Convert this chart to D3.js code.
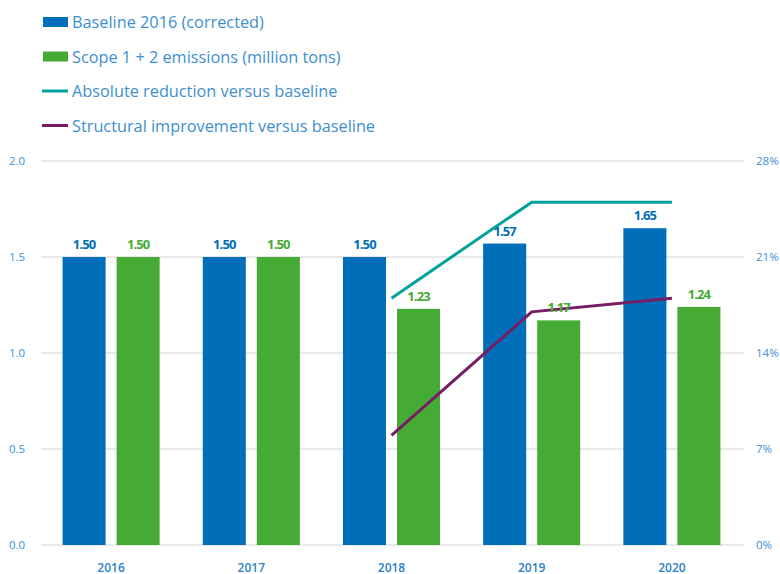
<!DOCTYPE html>
<html>
<head>
<meta charset="utf-8">
<script src="https://cdn.jsdelivr.net/npm/d3@7"></script>
<style>
body { margin: 0; background: #fff; }
svg { font-family: "Open Sans", sans-serif; }
</style>
</head>
<body>
<div id="chart"></div>
<script>
var years = ["2016", "2017", "2018", "2019", "2020"];
var baseline = [1.50, 1.50, 1.50, 1.57, 1.65];
var emissions = [1.50, 1.50, 1.23, 1.17, 1.24];
var absoluteReduction = [null, null, 18, 25, 25];
var structuralImprovement = [null, null, 8, 17, 18];
var leftTicks = [0, 0.5, 1.0, 1.5, 2.0];
var rightTicks = [0, 7, 14, 21, 28];

var blue = "#006eb9", green = "#46ab34", teal = "#00a19a", purple = "#761d64", textBlue = "#3d8fd0";

var width = 780, height = 574;
var margin = {top: 161, right: 38, bottom: 29, left: 41};

var svg = d3.select("#chart").append("svg")
    .attr("width", width)
    .attr("height", height);

var x = d3.scaleBand().domain(years).range([margin.left, width - margin.right]);
var y = d3.scaleLinear().domain([0, 2]).range([height - margin.bottom, margin.top]);
var y2 = d3.scaleLinear().domain([0, 28]).range([height - margin.bottom, margin.top]);

var barW = x.bandwidth() * 0.307, gap = 11;

// gridlines
svg.append("g").selectAll("line").data(leftTicks).enter().append("line")
    .attr("x1", margin.left).attr("x2", width - margin.right + 2)
    .attr("y1", function(d) { return y(d); }).attr("y2", function(d) { return y(d); })
    .style("stroke", "#e2e2e2").style("stroke-width", 1.5);

// left axis labels
svg.append("g").selectAll("text").data(leftTicks).enter().append("text")
    .attr("x", 9).attr("y", function(d) { return y(d) + 4; })
    .style("font-size", "11.5px").style("fill", textBlue)
    .text(function(d) { return d3.format(".1f")(d); });

// right axis labels
svg.append("g").selectAll("text").data(rightTicks).enter().append("text")
    .attr("x", 756).attr("y", function(d) { return y2(d) + 4; })
    .style("font-size", "11.5px").style("fill", textBlue)
    .text(function(d) { return d + "%"; });

// x labels
svg.append("g").selectAll("text").data(years).enter().append("text")
    .attr("x", function(d) { return x(d) + x.bandwidth() / 2; })
    .attr("y", 571.5)
    .attr("text-anchor", "middle")
    .style("font-size", "12px").style("font-weight", "600").style("fill", "#2c80c8")
    .text(function(d) { return d; });

// bars
var cx = function(d) { return x(d) + x.bandwidth() / 2; };
svg.append("g").selectAll("rect").data(years).enter().append("rect")
    .attr("x", function(d) { return cx(d) - gap / 2 - barW; })
    .attr("y", function(d, i) { return y(baseline[i]); })
    .attr("width", barW)
    .attr("height", function(d, i) { return y(0) - y(baseline[i]); })
    .style("fill", blue);

svg.append("g").selectAll("rect").data(years).enter().append("rect")
    .attr("x", function(d) { return cx(d) + gap / 2; })
    .attr("y", function(d, i) { return y(emissions[i]); })
    .attr("width", barW)
    .attr("height", function(d, i) { return y(0) - y(emissions[i]); })
    .style("fill", green);

// lines
var line = d3.line()
    .defined(function(d) { return d[1] != null; })
    .x(function(d) { return cx(d[0]); })
    .y(function(d) { return y2(d[1]); });

svg.append("path")
    .datum(years.map(function(d, i) { return [d, absoluteReduction[i]]; }))
    .attr("d", line)
    .style("fill", "none").style("stroke", teal).style("stroke-width", 3);

svg.append("path")
    .datum(years.map(function(d, i) { return [d, structuralImprovement[i]]; }))
    .attr("d", line)
    .style("fill", "none").style("stroke", purple).style("stroke-width", 3);

// value labels
svg.append("g").selectAll("text").data(years).enter().append("text")
    .attr("x", function(d) { return cx(d) - gap / 2 - barW / 2; })
    .attr("y", function(d, i) { return y(baseline[i]) - 8; })
    .attr("text-anchor", "middle")
    .style("font-size", "13px").style("font-weight", "bold").style("letter-spacing", "-0.9px")
    .style("fill", blue)
    .text(function(d, i) { return baseline[i].toFixed(2); });

svg.append("g").selectAll("text").data(years).enter().append("text")
    .attr("x", function(d) { return cx(d) + gap / 2 + barW / 2; })
    .attr("y", function(d, i) { return y(emissions[i]) - 8; })
    .attr("text-anchor", "middle")
    .style("font-size", "13px").style("font-weight", "bold").style("letter-spacing", "-0.9px")
    .style("fill", green)
    .text(function(d, i) { return emissions[i].toFixed(2); });

// legend
var legend = [
    {name: "Baseline 2016 (corrected)", color: blue, type: "rect"},
    {name: "Scope 1 + 2 emissions (million tons)", color: green, type: "rect"},
    {name: "Absolute reduction versus baseline", color: teal, type: "line"},
    {name: "Structural improvement versus baseline", color: purple, type: "line"}
];
var lg = svg.append("g").selectAll("g").data(legend).enter().append("g")
    .attr("transform", function(d, i) { return "translate(0," + (22 + i * 34.5) + ")"; });
lg.filter(function(d) { return d.type == "rect"; }).append("rect")
    .attr("x", 43).attr("y", -5).attr("width", 25).attr("height", 10)
    .style("fill", function(d) { return d.color; });
lg.filter(function(d) { return d.type == "line"; }).append("line")
    .attr("x1", 42).attr("x2", 68).attr("y1", 0).attr("y2", 0)
    .style("stroke", function(d) { return d.color; }).style("stroke-width", 3);
lg.append("text")
    .attr("x", 72).attr("y", 6)
    .style("font-size", "16.3px").style("fill", textBlue)
    .text(function(d) { return d.name; });
</script>
</body>
</html>
